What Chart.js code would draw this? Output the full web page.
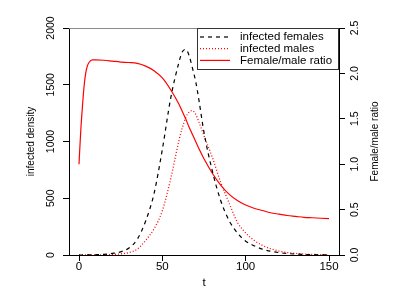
<!DOCTYPE html>
<html>
<head>
<meta charset="utf-8">
<script src="https://cdn.jsdelivr.net/npm/chart.js@4"></script>
<style>
  body { margin: 0; background: #fff; }
  #wrap { width: 417px; height: 303px; }
</style>
</head>
<body>
<div id="wrap"><canvas id="myChart" width="417" height="303"></canvas></div>
<script>
// time points (t)
const times = [0, 1, 2, 3, 4, 5, 6, 8, 10, 15, 20, 25, 30, 35, 40, 45, 50, 55, 60, 62, 64, 66, 68, 70, 72, 75,
    80, 85, 90, 95, 100, 105, 110, 115, 120, 125, 130, 135, 140, 145, 150];
const infectedFemales = [0, 0, 0, 0, 0, 1, 1, 1, 2, 6, 14, 28, 62, 140, 300, 540, 930, 1380, 1700, 1790, 1812, 1760, 1650, 1530, 1360, 1080,
    740, 480, 305, 195, 122, 82, 52, 33, 21, 13, 8, 5, 3, 2, 1];
const infectedMales = [0, 0, 0, 0, 0, 0, 0, 1, 1, 2, 5, 10, 22, 52, 130, 230, 390, 670, 1010, 1120, 1210, 1258, 1272, 1240, 1170, 1050,
    860, 640, 460, 290, 195, 130, 85, 55, 35, 22, 14, 8, 5, 3, 2];
const ratio = [1.0, 1.35, 1.62, 1.85, 2.0, 2.08, 2.12, 2.15, 2.15, 2.145, 2.135, 2.125, 2.12, 2.11, 2.08, 2.03, 1.95, 1.82, 1.66, 1.58, 1.50, 1.41, 1.33, 1.25, 1.17, 1.06,
    0.90, 0.77, 0.67, 0.60, 0.55, 0.515, 0.49, 0.465, 0.45, 0.435, 0.425, 0.415, 0.41, 0.405, 0.40];

const tTicks = [0, 50, 100, 150];
const densityTicks = [0, 500, 1000, 1500, 2000];
const ratioTicks = [0.0, 0.5, 1.0, 1.5, 2.0, 2.5];
const legendLabels = ['infected females', 'infected males', 'Female/male ratio'];

const toPoints = (vals) => times.map((t, i) => ({ x: t, y: vals[i] }));

const HFONT = '11.5px "Liberation Sans", Arial, sans-serif';
const VFONT = '10.5px "Liberation Sans", Arial, sans-serif';

const rotText = (ctx, text, x, y) => {
    ctx.save();
    ctx.translate(x, y);
    ctx.rotate(-Math.PI / 2);
    ctx.textAlign = 'center';
    ctx.textBaseline = 'middle';
    ctx.fillText(text, 0, 0);
    ctx.restore();
};

const labelsPlugin = {
    id: 'rlabels',
    afterDraw(chart) {
        const ctx = chart.ctx;
        const area = chart.chartArea;
        const xs = chart.scales.x, ys = chart.scales.y, ys2 = chart.scales.y2;
        ctx.save();

        // top frame line
        ctx.strokeStyle = '#8c8c8c';
        ctx.lineWidth = 1;
        ctx.beginPath();
        ctx.moveTo(area.left, Math.round(area.top) + 0.5);
        ctx.lineTo(area.right, Math.round(area.top) + 0.5);
        ctx.stroke();

        ctx.fillStyle = '#000';
        // x tick labels
        ctx.font = HFONT;
        ctx.textAlign = 'center';
        ctx.textBaseline = 'middle';
        tTicks.forEach(v => ctx.fillText(String(v), xs.getPixelForValue(v), 267));
        ctx.fillText('t', (area.left + area.right) / 2, 283);

        // y tick labels (rotated)
        ctx.font = VFONT;
        densityTicks.forEach(v => rotText(ctx, String(v), 51, ys.getPixelForValue(v)));
        ratioTicks.forEach(v => rotText(ctx, v.toFixed(1), 355, ys2.getPixelForValue(v)));
        const midY = (area.top + area.bottom) / 2;
        ctx.font = '10px "Liberation Sans", Arial, sans-serif';
        rotText(ctx, 'infected density', 31, midY);
        rotText(ctx, 'Female/male ratio', 375, midY);

        // legend
        const lx = 197, ly = Math.round(area.top), lw = area.right - 197, lh = 42;
        ctx.fillStyle = '#fff';
        ctx.fillRect(lx, ly, lw, lh);
        ctx.strokeStyle = '#333';
        ctx.strokeRect(lx + 0.5, ly + 0.5, lw - 1, lh - 1);
        const styles = chart.data.datasets;
        ctx.font = HFONT;
        ctx.textAlign = 'left';
        ctx.textBaseline = 'middle';
        legendLabels.forEach((lab, i) => {
            const yy = ly + 9 + i * 11.7;
            ctx.strokeStyle = styles[i].borderColor;
            ctx.lineWidth = 1.2;
            ctx.setLineDash(styles[i].borderDash || []);
            ctx.beginPath();
            ctx.moveTo(200, yy);
            ctx.lineTo(230, yy);
            ctx.stroke();
            ctx.setLineDash([]);
            ctx.fillStyle = '#000';
            ctx.fillText(lab, 240, yy);
        });
        ctx.restore();
    }
};

const axisGrid = {
    display: true,
    drawOnChartArea: false,
    drawTicks: true,
    tickLength: 6,
    color: '#000',
    lineWidth: 1
};

new Chart(document.getElementById('myChart').getContext('2d'), {
    type: 'line',
    data: {
        datasets: [
            {
                label: legendLabels[0],
                data: toPoints(infectedFemales),
                borderColor: '#000',
                borderDash: [4, 4],
                borderWidth: 1.2,
                pointRadius: 0,
                cubicInterpolationMode: 'monotone',
                yAxisID: 'y'
            },
            {
                label: legendLabels[1],
                data: toPoints(infectedMales),
                borderColor: '#ff0000',
                borderDash: [1, 2],
                borderWidth: 1.3,
                pointRadius: 0,
                cubicInterpolationMode: 'monotone',
                yAxisID: 'y'
            },
            {
                label: legendLabels[2],
                data: toPoints(ratio),
                borderColor: '#ff0000',
                borderWidth: 1.2,
                pointRadius: 0,
                cubicInterpolationMode: 'monotone',
                yAxisID: 'y2'
            }
        ]
    },
    options: {
        responsive: false,
        animation: false,
        layout: { padding: { top: 28, left: 0, right: 0, bottom: 0 } },
        plugins: {
            legend: { display: false },
            tooltip: { enabled: false }
        },
        scales: {
            x: {
                type: 'linear',
                min: -6,
                max: 156,
                grid: axisGrid,
                border: { display: true, color: '#000', width: 1 },
                ticks: { display: false },
                afterBuildTicks: (s) => { s.ticks = tTicks.map(v => ({ value: v })); },
                afterFit: (s) => { s.height = 48; }
            },
            y: {
                position: 'left',
                min: 0,
                max: 2000,
                grid: axisGrid,
                border: { display: true, color: '#000', width: 1 },
                ticks: { display: false },
                afterBuildTicks: (s) => { s.ticks = densityTicks.map(v => ({ value: v })); },
                afterFit: (s) => { s.width = 69; }
            },
            y2: {
                position: 'right',
                min: 0,
                max: 2.5,
                grid: axisGrid,
                border: { display: true, color: '#000', width: 1 },
                ticks: { display: false },
                afterBuildTicks: (s) => { s.ticks = ratioTicks.map(v => ({ value: v })); },
                afterFit: (s) => { s.width = 78; }
            }
        }
    },
    plugins: [labelsPlugin]
});
</script>
</body>
</html>
